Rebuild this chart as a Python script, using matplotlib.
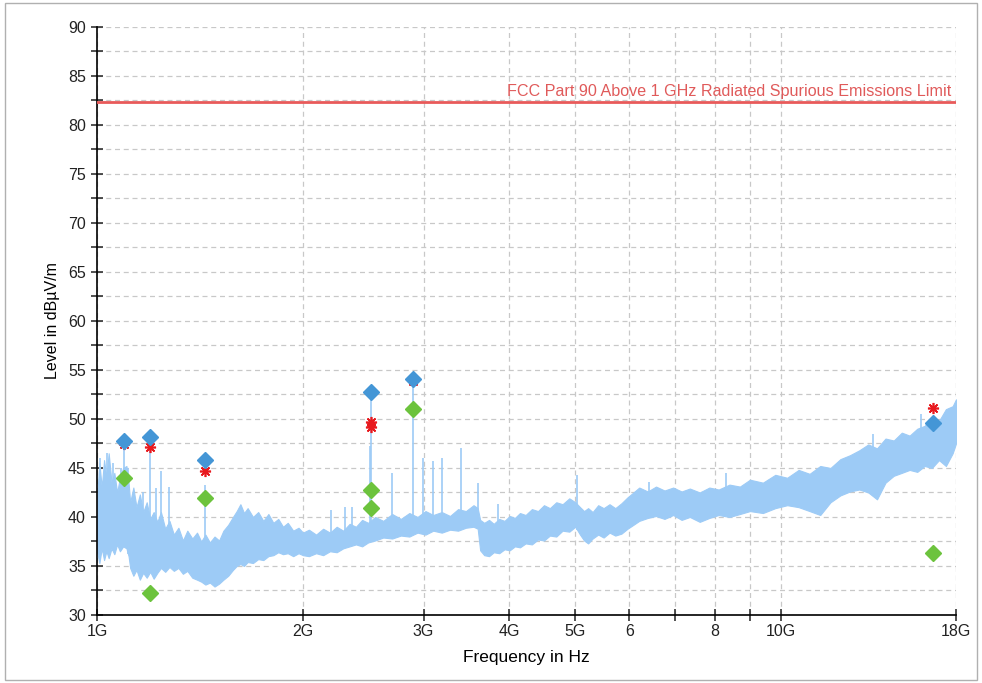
import numpy as np
import matplotlib
matplotlib.use("Agg")
import matplotlib.pyplot as plt
from matplotlib.ticker import FixedLocator, FixedFormatter, MultipleLocator

plt.rcParams['font.family'] = ['Liberation Sans', 'DejaVu Sans']

# spectrum envelope (GHz, dBuV/m)
trace_f = [1.000, 1.008, 1.016, 1.024, 1.032, 1.040, 1.050, 1.060, 1.070, 1.080, 1.092, 1.104, 1.112,
           1.118, 1.130, 1.142, 1.155, 1.168, 1.182, 1.196, 1.210,
           1.225, 1.240, 1.258, 1.276, 1.295, 1.315, 1.335, 1.355, 1.378, 1.400, 1.420,
           1.440, 1.462, 1.485, 1.508, 1.530, 1.555, 1.580, 1.600, 1.620, 1.640, 1.660,
           1.690, 1.720, 1.750, 1.780, 1.810, 1.840, 1.870, 1.900, 1.935, 1.970, 2.000,
           2.040, 2.090, 2.140, 2.190, 2.240, 2.290, 2.340, 2.390, 2.440, 2.490,
           2.550, 2.620, 2.700, 2.780, 2.860, 2.940, 3.020, 3.100, 3.190, 3.280, 3.370, 3.460, 3.550, 3.600,
           3.630, 3.680, 3.740, 3.800, 3.870, 3.940, 4.010, 4.080, 4.150,
           4.230, 4.320, 4.410, 4.500, 4.590, 4.690, 4.790, 4.900, 5.000,
           5.080, 5.150, 5.220, 5.300, 5.400, 5.500, 5.610, 5.720, 5.840, 5.960, 6.080,
           6.200, 6.380, 6.560, 6.750, 6.950, 7.150, 7.350, 7.600, 7.850, 8.100, 8.400, 8.700,
           9.000, 9.400, 9.800, 10.20, 10.60, 11.00, 11.40, 11.80, 12.20, 12.60,
           13.00, 13.40, 13.80, 14.20, 14.60, 15.00, 15.40, 15.80, 16.20, 16.60, 17.00, 17.40, 17.80, 18.00]
trace_hi = [42.0, 45.5, 43.0, 45.8, 44.0, 46.5, 43.5, 44.5, 42.5, 44.0, 45.0, 45.2, 43.5,
            41.5, 43.0, 41.0, 42.3, 40.5, 41.5, 39.8, 40.5,
            39.5, 40.5, 38.8, 39.6, 38.2, 38.9, 37.6, 38.6, 37.8, 38.4, 37.5,
            38.2, 37.4, 38.0, 37.6, 38.6, 39.2, 40.0, 40.6, 41.3, 40.4, 40.9,
            40.0, 40.5, 39.6, 40.3, 39.4, 39.8, 39.0, 39.4, 38.6, 38.9, 38.4,
            38.7, 38.2, 38.8, 38.4, 39.0, 38.6, 39.3, 39.0, 39.7, 39.4,
            40.0, 39.6, 40.3, 39.8, 40.4, 40.0, 40.6, 40.2, 40.5, 40.1, 40.8, 40.6, 41.2, 40.9,
            39.7, 39.4, 39.7, 39.3, 39.8, 39.6, 40.1, 39.9, 40.4,
            40.2, 40.8, 40.6, 41.2, 40.9, 41.5, 41.3, 41.9, 41.5,
            41.0, 40.6, 40.9, 40.5, 41.2, 40.9, 41.3, 40.9, 41.4, 42.0, 42.5,
            43.0, 42.6, 43.1, 42.7, 43.0, 42.6, 42.9, 42.5, 43.0, 42.8, 43.3, 43.1,
            43.8, 43.5, 44.3, 44.0, 44.8, 44.4, 45.2, 45.0, 45.9, 46.3,
            46.8, 47.4, 47.0, 48.0, 47.8, 48.6, 48.3, 49.0, 49.3, 50.2, 49.8, 51.0, 51.3, 52.0]
trace_lo = [36.5, 35.3, 36.8, 35.6, 36.5, 35.8, 36.8, 36.2, 37.2, 36.5, 37.0, 36.8, 36.0,
            34.8, 34.0, 34.6, 33.6, 34.3, 33.8, 34.4, 33.7,
            34.3, 34.8, 34.4, 34.9, 34.5, 34.8, 34.2, 34.5, 33.8, 33.6, 33.4,
            33.1, 33.3, 32.9, 33.2, 33.6, 34.0, 34.6, 35.0, 35.2, 35.0, 35.4,
            35.3, 35.7, 35.6, 36.0, 36.1, 36.4, 36.2, 36.3, 36.0, 36.3, 36.1,
            36.0, 36.3, 36.1, 36.5, 36.4, 36.8, 37.0, 37.2, 37.0, 37.4,
            37.6, 37.9, 37.8, 38.1, 38.0, 38.4, 38.2, 38.6, 38.4, 38.7, 38.6, 38.9, 39.0, 38.8,
            36.6, 36.1, 36.0, 36.4, 36.3, 36.7, 36.6, 37.0, 36.9,
            37.3, 37.2, 37.7, 37.6, 38.1, 38.0, 38.6, 38.5, 39.0,
            38.2, 37.6, 37.3, 37.8, 38.2, 37.9, 38.4, 38.1, 38.3, 38.8, 39.2,
            39.6, 39.9, 40.1, 39.8, 40.2, 39.7, 40.0, 39.5, 39.9, 40.2, 40.0, 40.3,
            40.6, 40.4, 40.9, 41.2, 41.0, 40.6, 40.2, 41.5, 42.2, 42.6,
            42.8, 42.5, 41.8, 43.5, 44.2, 44.5, 44.8, 44.6, 45.2, 45.0, 45.8, 45.2, 46.5, 47.5]

# narrow peaks rising out of the noise floor
spike_f = [1.010, 1.034, 1.055, 1.084, 1.095, 1.110, 1.167, 1.195, 1.220, 1.239,
           1.274, 1.438, 2.198, 2.304, 2.359, 2.505, 2.514,
           2.700, 2.896, 2.990, 3.100, 3.190, 3.400, 3.600, 3.850, 5.030, 6.400,
           8.300, 13.60, 16.00]
spike_lvl = [46.0, 46.5, 45.5, 45.0, 47.5, 45.0, 42.5, 48.2, 43.0, 44.7,
             43.1, 43.3, 40.7, 41.0, 41.0, 47.2, 52.8,
             44.5, 54.1, 46.0, 45.7, 46.0, 47.0, 43.5, 41.3, 44.3, 43.6,
             44.5, 48.5, 50.5]

# final measurement markers
peak_f = [1.095, 1.195, 1.438, 2.514, 2.896, 16.66]
peak_lvl = [47.7, 48.2, 45.8, 52.8, 54.1, 49.6]
qp_f = [1.095, 1.195, 1.438, 2.514, 2.514, 2.896, 16.66]
qp_lvl = [47.4, 47.1, 44.7, 49.7, 49.2, 53.9, 51.1]
avg_f = [1.095, 1.195, 1.438, 2.514, 2.514, 2.896, 16.66]
avg_lvl = [44.0, 32.2, 41.9, 42.8, 40.9, 51.0, 36.3]

limit_lvl = 82.3
limit_name = "FCC Part 90 Above 1 GHz Radiated Spurious Emissions Limit"

xticks = [1, 2, 3, 4, 5, 6, 7, 8, 9, 10, 18]
xlabels = ["1G", "2G", "3G", "4G", "5G", "6", "", "8", "", "10G", "18G"]

fig = plt.figure(figsize=(9.82, 6.83), dpi=100)
ax = fig.add_axes([0.0988, 0.0996, 0.8747, 0.861])

trace_col = "#9dcbf6"
ax.fill_between(trace_f, trace_lo, trace_hi, color=trace_col, lw=0.8, edgecolor=trace_col, zorder=2)
# spikes start inside the band
spike_base = np.interp(np.log(spike_f), np.log(trace_f), trace_lo)
ax.vlines(spike_f, spike_base, spike_lvl, color=trace_col, lw=1.2, zorder=2)

ax.axhline(limit_lvl, color="#e85a5a", lw=2, zorder=3)
ax.text(17.7, limit_lvl + 0.35, limit_name, color="#e05a5a", fontsize=11.6,
        ha="right", va="bottom", zorder=4)

ax.plot(avg_f, avg_lvl, ls="none", marker="D", ms=8.5, color="#6cc33d", zorder=5)
ax.plot(qp_f, qp_lvl, ls="none", marker=(8, 2, 0), ms=8, mew=1.2, color="#e8191e", zorder=5)
ax.plot(qp_f, qp_lvl, ls="none", marker="o", ms=3, color="#e8191e", zorder=5)
ax.plot(peak_f, peak_lvl, ls="none", marker="D", ms=8.5, color="#4496d6", zorder=6)

ax.set_xscale("log")
ax.set_xlim(1, 18)
ax.set_ylim(30, 90)
ax.xaxis.set_major_locator(FixedLocator(xticks))
ax.xaxis.set_major_formatter(FixedFormatter(xlabels))
ax.xaxis.set_minor_locator(FixedLocator([]))
ax.yaxis.set_major_locator(MultipleLocator(5))
ax.yaxis.set_minor_locator(MultipleLocator(2.5))

ax.grid(True, which="both", axis="y", ls=(0, (4, 3)), color="#c8c8c8", lw=0.9, zorder=0)
ax.grid(True, which="major", axis="x", ls=(0, (4, 3)), color="#c8c8c8", lw=0.9, zorder=0)
ax.set_axisbelow(True)

for s in ["top", "right"]:
    ax.spines[s].set_visible(False)
ax.spines["left"].set_linewidth(1.2)
ax.spines["bottom"].set_linewidth(1.2)
ax.tick_params(which="both", direction="inout", length=9, width=1.1, labelsize=11.5, colors="#222222")
ax.tick_params(axis="x", pad=2)

ax.set_xlabel("Frequency in Hz", fontsize=12.5, labelpad=8)
ax.set_ylabel("Level in dBµV/m", fontsize=11.5, labelpad=6)

# thin grey frame around the whole picture
fig.patches.append(plt.Rectangle((0.005, 0.005), 0.99, 0.99, transform=fig.transFigure,
                                 fill=False, edgecolor="#b0b0b0", lw=1))

fig.savefig("out.png", dpi=100)
